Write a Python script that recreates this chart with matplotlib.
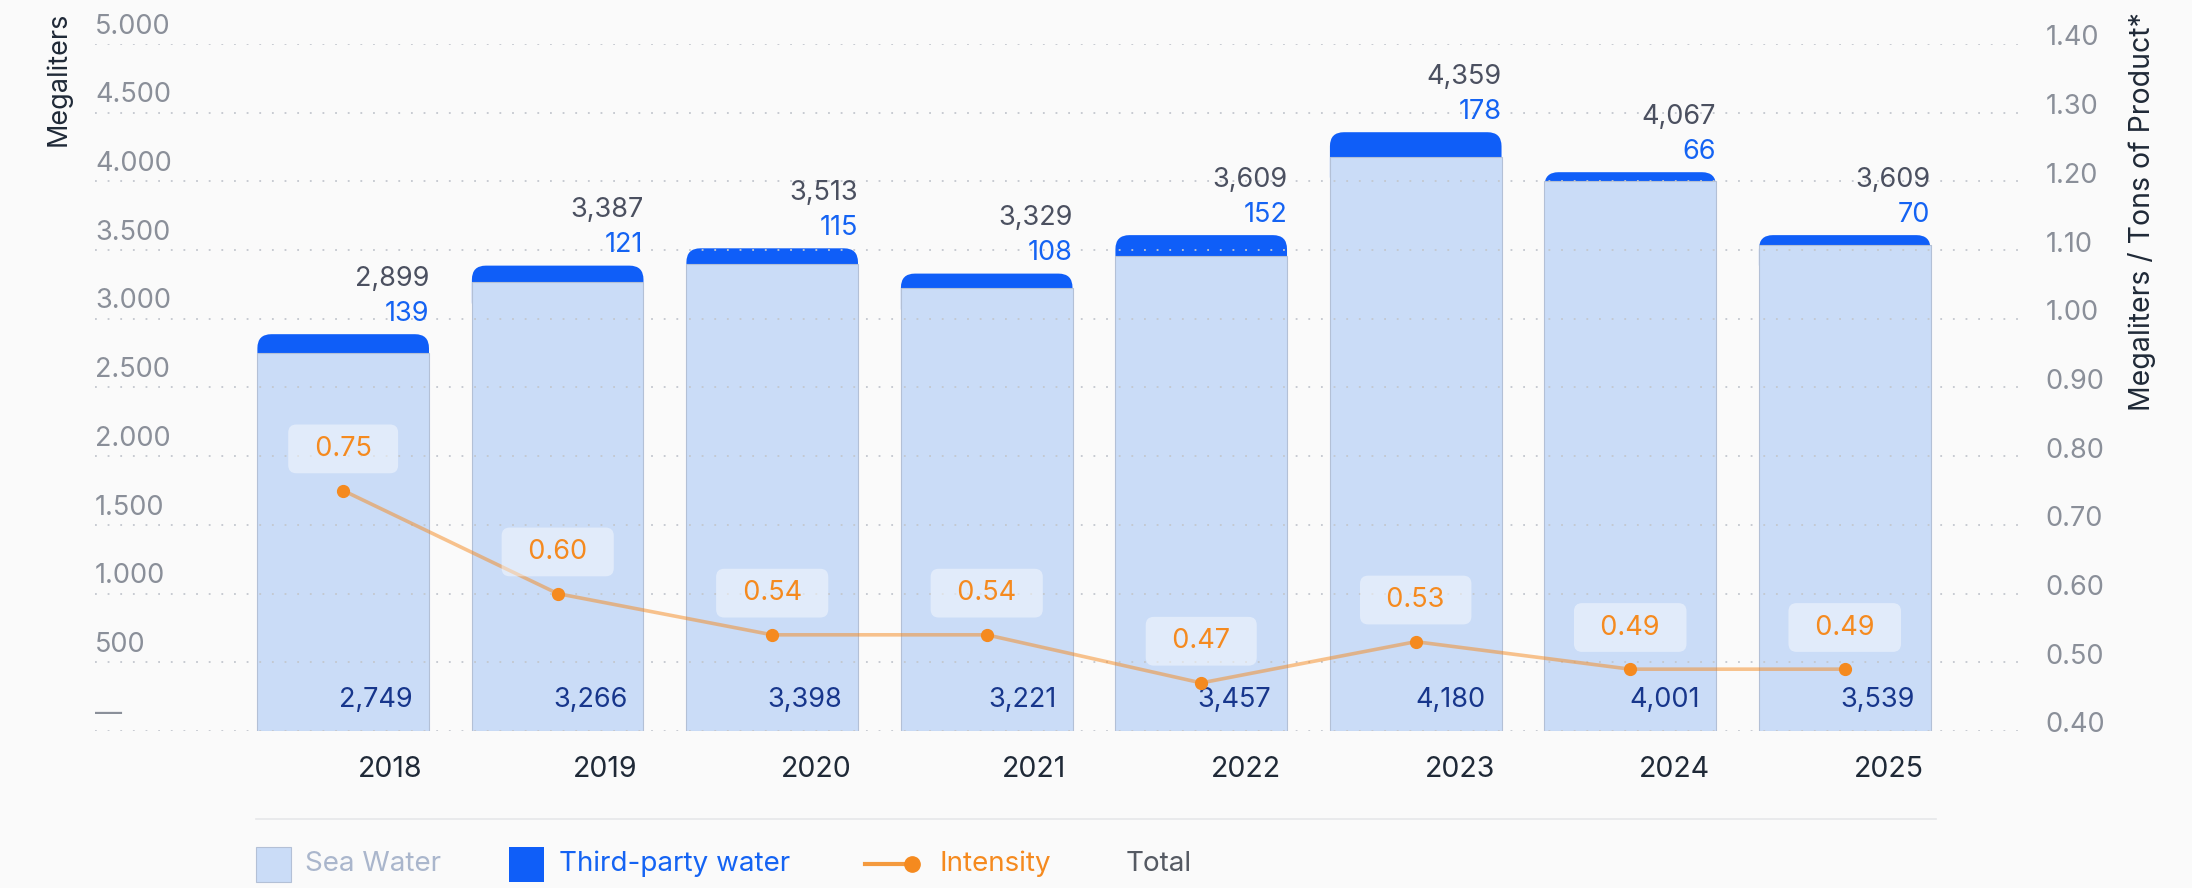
import matplotlib

matplotlib.use("Agg")
import matplotlib.pyplot as plt
from matplotlib.lines import Line2D
from matplotlib.patches import FancyBboxPatch, Rectangle

plt.rcParams["font.family"] = ["Inter", "DejaVu Sans"]

years = ["2018", "2019", "2020", "2021", "2022", "2023", "2024", "2025"]
sea_water = [2749, 3266, 3398, 3221, 3457, 4180, 4001, 3539]
third_party = [139, 121, 115, 108, 152, 178, 66, 70]
totals = [2899, 3387, 3513, 3329, 3609, 4359, 4067, 3609]
intensity = [0.75, 0.60, 0.54, 0.54, 0.47, 0.53, 0.49, 0.49]

left_ticks = [0, 500, 1000, 1500, 2000, 2500, 3000, 3500, 4000, 4500, 5000]
left_tick_labels = ["—", "500", "1.000", "1.500", "2.000", "2.500", "3.000", "3.500", "4.000", "4.500", "5.000"]
right_ticks = [0.40, 0.50, 0.60, 0.70, 0.80, 0.90, 1.00, 1.10, 1.20, 1.30, 1.40]
right_tick_labels = [f"{v:.2f}" for v in right_ticks]

SEA = "#cadcf7"
THIRD = "#0f5ef8"
ORANGE = "#f58a1f"
GRID = "#c3c7ce"
TICK = "#8a8f99"
DARK = "#1f2937"
BG = "#fafafa"
FS = 19.5

W, H = 2192, 888
fig = plt.figure(figsize=(W / 100, H / 100), dpi=100, facecolor=BG)
ax = fig.add_axes([95 / W, 157 / H, 1928 / W, 687 / H])
ax.set_facecolor("none")
ax.set_ylim(0, 5000)
ax.set_xlim(-1.157, 7.831)
for side in ax.spines.values():
    side.set_visible(False)
ax.set_xticks([])
ax.set_yticks([])

x = list(range(len(years)))
width = 0.8

# dotted grid, shared by both scales
for v in left_ticks:
    ax.axhline(v, color=GRID, lw=1.3, ls=(0, (1, 6)), zorder=2.5)

# third-party segment with rounded top, tucked under the sea-water bar
px_per_x = 1928 / (7.831 + 1.157)
px_per_y = 687 / 5000
aspect = px_per_x / px_per_y
radius = 14 / px_per_x
for xi, s, t in zip(x, sea_water, third_party):
    patch = FancyBboxPatch(
        (xi - width / 2, s - 250), width, t + 250,
        boxstyle=f"round,pad=0,rounding_size={radius}",
        mutation_aspect=aspect, fc=THIRD, ec="none", zorder=1.5,
    )
    ax.add_patch(patch)
ax.bar(x, sea_water, width=width, color=SEA, edgecolor="#b3c0d6", linewidth=0.8, zorder=2)

for xi, s, t, tot, yr in zip(x, sea_water, third_party, totals, years):
    top = s + t
    ax.annotate(f"{tot:,}", (xi + width / 2, top), xytext=(0, 40), textcoords="offset points",
                ha="right", va="center", fontsize=FS, color="#4b5060", zorder=5)
    ax.annotate(f"{t:,}", (xi + width / 2, top), xytext=(0, 14.5), textcoords="offset points",
                ha="right", va="center", fontsize=FS, color="#1463f3", zorder=5)
    ax.annotate(f"{s:,}", (xi + width / 2 - 0.075, 0), xytext=(0, 22), textcoords="offset points",
                ha="right", va="center", fontsize=FS, color="#17368c", zorder=5)
    ax.annotate(yr, (xi + width / 2 - 0.03, 0), xytext=(0, -28), textcoords="offset points",
                ha="right", va="center", fontsize=20.5, color=DARK)

for v, lab in zip(left_ticks, left_tick_labels):
    ax.annotate(lab, (0, v), xycoords=ax.get_yaxis_transform(), xytext=(0, 12.5),
                textcoords="offset points", ha="left", va="center", fontsize=FS, color=TICK)

# intensity on the right scale
ax2 = ax.twinx()
ax2.set_ylim(0.4, 1.4)
for side in ax2.spines.values():
    side.set_visible(False)
ax2.set_yticks([])
ax2.plot(x, intensity, color=ORANGE, alpha=0.5, lw=2.6, solid_capstyle="round", zorder=3)
ax2.plot(x, intensity, ls="none", marker="o", ms=8.5, color=ORANGE, zorder=4)
for xi, v in zip(x, intensity):
    ax2.annotate(f"  {v:.2f}  ", (xi, v), xytext=(0, 30), textcoords="offset points",
                 ha="center", va="center", fontsize=FS, color=ORANGE, zorder=6,
                 bbox=dict(boxstyle="round,pad=0.42,rounding_size=0.3", fc="white", alpha=0.45, ec="none"))

for v, lab in zip(right_ticks, right_tick_labels):
    ax2.annotate(lab, (1, v), xycoords=ax2.get_yaxis_transform(), xytext=(16, 4),
                 textcoords="offset points", ha="left", va="center", fontsize=FS, color=TICK)

fig.text(58 / W, 1 - 12 / H, "Megaliters", rotation=90, ha="center", va="top", fontsize=19.5, color=DARK)
fig.text(2142 / W, 1 - 12 / H, "Megaliters / Tons of Product*", rotation=90, ha="center", va="top",
         fontsize=20.5, color=DARK)

# legend row
fig.add_artist(Line2D([256 / W, 1936 / W], [1 - 819 / H] * 2, color="#e6e7ea", lw=1.2))
ly = 1 - 864 / H
fig.add_artist(Rectangle((256 / W, ly - 17.5 / H), 35 / W, 35 / H, fc=SEA, ec="#b3c0d6", lw=0.8))
fig.text(305 / W, ly, "Sea Water", ha="left", va="center", fontsize=20, color="#aab6cc")
fig.add_artist(Rectangle((509 / W, ly - 17.5 / H), 35 / W, 35 / H, fc=THIRD, ec="none"))
fig.text(559 / W, ly, "Third-party water", ha="left", va="center", fontsize=20, color="#1463f3")
fig.add_artist(Line2D([865 / W, 912 / W], [ly, ly], color="#f49a3e", lw=3))
fig.add_artist(Line2D([912 / W], [ly], marker="o", ms=11, color=ORANGE, ls="none"))
fig.text(940 / W, ly, "Intensity", ha="left", va="center", fontsize=20, color=ORANGE)
fig.text(1126 / W, ly, "Total", ha="left", va="center", fontsize=20, color="#555a63")

fig.savefig("out.png", dpi=100, facecolor=BG)
